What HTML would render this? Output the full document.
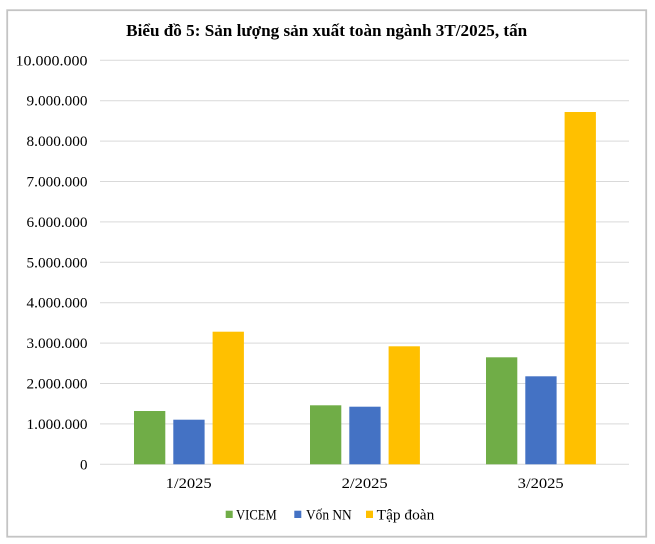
<!DOCTYPE html>
<html>
<head>
<meta charset="utf-8">
<style>
  html, body { margin: 0; padding: 0; background: #ffffff; }
  svg { display: block; }
  text { font-family: "Liberation Serif", "DejaVu Serif", serif; fill: #000; }
</style>
</head>
<body>
<svg width="655" height="544" viewBox="0 0 655 544" xmlns="http://www.w3.org/2000/svg">
  <rect x="0" y="0" width="655" height="544" fill="#ffffff"/>
  <rect x="7.2" y="10.2" width="639" height="526.5" fill="#ffffff" stroke="#c4c4c4" stroke-width="1.8"/>

  <text x="326.7" y="36" font-size="17" font-weight="bold" text-anchor="middle" textLength="401" lengthAdjust="spacingAndGlyphs">Biểu đồ 5: Sản lượng sản xuất toàn ngành 3T/2025, tấn</text>

  <g stroke="#d9d9d9" stroke-width="1">
    <line x1="100" y1="60.3" x2="629" y2="60.3"/>
    <line x1="100" y1="100.7" x2="629" y2="100.7"/>
    <line x1="100" y1="141.1" x2="629" y2="141.1"/>
    <line x1="100" y1="181.5" x2="629" y2="181.5"/>
    <line x1="100" y1="221.9" x2="629" y2="221.9"/>
    <line x1="100" y1="262.3" x2="629" y2="262.3"/>
    <line x1="100" y1="302.7" x2="629" y2="302.7"/>
    <line x1="100" y1="343.1" x2="629" y2="343.1"/>
    <line x1="100" y1="383.5" x2="629" y2="383.5"/>
    <line x1="100" y1="423.9" x2="629" y2="423.9"/>
    <line x1="100" y1="464.3" x2="629" y2="464.3"/>
  </g>

  <g font-size="15" text-anchor="end">
    <text x="87.5" y="65.3" textLength="72" lengthAdjust="spacingAndGlyphs">10.000.000</text>
    <text x="87.5" y="105.7" textLength="61" lengthAdjust="spacingAndGlyphs">9.000.000</text>
    <text x="87.5" y="146.1" textLength="61" lengthAdjust="spacingAndGlyphs">8.000.000</text>
    <text x="87.5" y="186.5" textLength="61" lengthAdjust="spacingAndGlyphs">7.000.000</text>
    <text x="87.5" y="226.9" textLength="61" lengthAdjust="spacingAndGlyphs">6.000.000</text>
    <text x="87.5" y="267.3" textLength="61" lengthAdjust="spacingAndGlyphs">5.000.000</text>
    <text x="87.5" y="307.7" textLength="61" lengthAdjust="spacingAndGlyphs">4.000.000</text>
    <text x="87.5" y="348.1" textLength="61" lengthAdjust="spacingAndGlyphs">3.000.000</text>
    <text x="87.5" y="388.5" textLength="61" lengthAdjust="spacingAndGlyphs">2.000.000</text>
    <text x="87.5" y="428.9" textLength="61" lengthAdjust="spacingAndGlyphs">1.000.000</text>
    <text x="87.5" y="469.3">0</text>
  </g>

  <!-- Group 1 -->
  <rect x="134" y="411" width="31.3" height="53.3" fill="#70ad47"/>
  <rect x="173.3" y="419.7" width="31.3" height="44.6" fill="#4472c4"/>
  <rect x="212.6" y="331.7" width="31.3" height="132.6" fill="#ffc000"/>
  <!-- Group 2 -->
  <rect x="310" y="405.3" width="31.3" height="59" fill="#70ad47"/>
  <rect x="349.3" y="406.7" width="31.3" height="57.6" fill="#4472c4"/>
  <rect x="388.6" y="346.3" width="31.3" height="118" fill="#ffc000"/>
  <!-- Group 3 -->
  <rect x="486" y="357.3" width="31.3" height="107" fill="#70ad47"/>
  <rect x="525.3" y="376.3" width="31.3" height="88" fill="#4472c4"/>
  <rect x="564.6" y="112" width="31.3" height="352.3" fill="#ffc000"/>

  <g font-size="15" text-anchor="middle">
    <text x="188.7" y="488" textLength="46" lengthAdjust="spacingAndGlyphs">1/2025</text>
    <text x="364.7" y="488" textLength="46" lengthAdjust="spacingAndGlyphs">2/2025</text>
    <text x="540.7" y="488" textLength="46" lengthAdjust="spacingAndGlyphs">3/2025</text>
  </g>

  <!-- Legend -->
  <rect x="225.7" y="510.7" width="7" height="7.3" fill="#70ad47"/>
  <text x="236" y="519.3" font-size="14.5" textLength="40.7" lengthAdjust="spacingAndGlyphs">VICEM</text>
  <rect x="294.3" y="510.7" width="7" height="7.3" fill="#4472c4"/>
  <text x="306" y="519.3" font-size="14.5" textLength="45.7" lengthAdjust="spacingAndGlyphs">Vốn NN</text>
  <rect x="366" y="510.7" width="7" height="7.3" fill="#ffc000"/>
  <text x="376.7" y="519.3" font-size="14.5" textLength="57.6" lengthAdjust="spacingAndGlyphs">Tập đoàn</text>
</svg>
</body>
</html>
